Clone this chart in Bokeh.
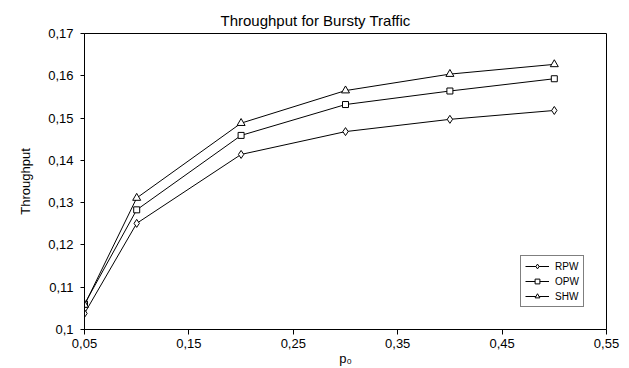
from bokeh.plotting import figure
from bokeh.models import FixedTicker, CustomJSTickFormatter, Legend, LegendItem
from bokeh.embed import file_html
from bokeh.resources import INLINE

p0 = [0.05, 0.1, 0.2, 0.3, 0.4, 0.5]
rpw = [0.1038, 0.1251, 0.1414, 0.1468, 0.1497, 0.1518]
opw = [0.1060, 0.1283, 0.1459, 0.1532, 0.1564, 0.1593]
shw = [0.1058, 0.1311, 0.1488, 0.1565, 0.1604, 0.1627]
x_ticks = [0.05, 0.15, 0.25, 0.35, 0.45, 0.55]
y_ticks = [0.10, 0.11, 0.12, 0.13, 0.14, 0.15, 0.16, 0.17]

FONT = "Liberation Sans"

p = figure(frame_width=522, frame_height=296, output_backend="svg", toolbar_location=None,
           x_range=(0.05, 0.55), y_range=(0.10, 0.17),
           min_border_left=84, min_border_right=23, min_border_top=33, min_border_bottom=39)
p.title.text = "Throughput for Bursty Traffic"
p.title.align = "left"
p.title.offset = 136
p.title.text_font = FONT
p.title.text_font_size = "15px"
p.title.text_font_style = "normal"
p.title.text_color = "black"

p.xgrid.visible = False
p.ygrid.visible = False
p.outline_line_color = "black"
p.outline_line_alpha = 1
p.outline_line_width = 1

fmt = CustomJSTickFormatter(code="return String(Math.round(tick*100)/100).replace('.', ',');")
for ax, ticks in ((p.xaxis[0], x_ticks), (p.yaxis[0], y_ticks)):
    ax.ticker = FixedTicker(ticks=ticks)
    ax.formatter = fmt
    ax.minor_tick_line_color = None
    ax.major_tick_in = 0
    ax.axis_line_color = "black"
    ax.major_tick_line_color = "black"
    ax.major_label_text_font = FONT
    ax.major_label_text_font_size = "13px"
    ax.major_label_text_color = "black"
    ax.axis_label_text_font = FONT
    ax.axis_label_text_font_size = "13px"
    ax.axis_label_text_font_style = "normal"
    ax.axis_label_text_color = "black"

p.xaxis.major_tick_out = 5
p.yaxis.major_tick_out = 4
p.xaxis.major_label_standoff = 4
p.yaxis.major_label_standoff = 7
p.xaxis.axis_label = "p\u2080"
p.xaxis.axis_label_standoff = 0
p.yaxis.axis_label = "Throughput"
p.yaxis.axis_label_standoff = 12

items = []
for name, ys, marker, size in (("RPW", rpw, "diamond", 8), ("OPW", opw, "square", 6), ("SHW", shw, "triangle", 8)):
    l = p.line(p0, ys, line_color="black", line_width=1)
    s = p.scatter(p0, ys, marker=marker, size=size, fill_color="white", line_color="black", line_width=1)
    items.append(LegendItem(label=name, renderers=[l, s]))

legend = Legend(items=items, location=(436, 22), padding=4, spacing=3,
                glyph_width=24, glyph_height=12, label_height=12, label_standoff=6,
                label_text_font=FONT, label_text_font_size="10px", label_text_color="black",
                border_line_color="black", border_line_width=1, background_fill_color="white",
                background_fill_alpha=1, margin=0)
p.add_layout(legend, "center")

open("out.html", "w").write(file_html(p, INLINE))
